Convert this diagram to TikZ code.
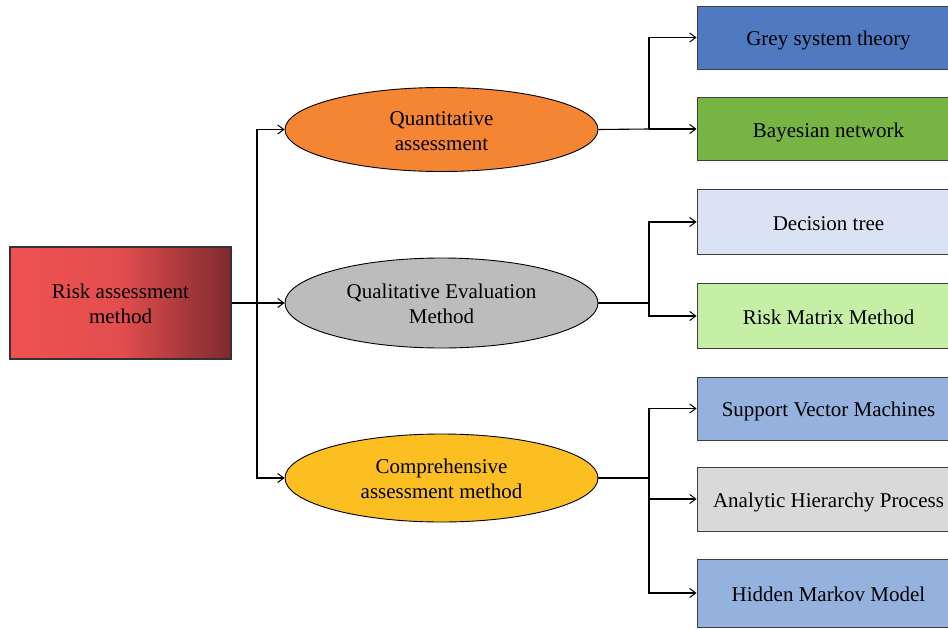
\documentclass[tikz,border=0pt]{standalone}
\usepackage{fontspec}
\setmainfont{Liberation Serif}
\usetikzlibrary{arrows.meta,shapes.geometric}
\definecolor{rootL}{HTML}{F05252}
\definecolor{rootR}{HTML}{7E2A2E}
\definecolor{cOrange}{HTML}{F48533}
\definecolor{cGrey}{HTML}{BCBCBC}
\definecolor{cYellow}{HTML}{FBBF21}
\definecolor{cBlue}{HTML}{4F7AC0}
\definecolor{cGreen}{HTML}{77B444}
\definecolor{cPale}{HTML}{DAE3F4}
\definecolor{cLGreen}{HTML}{C6EFA6}
\definecolor{cMBlue}{HTML}{95B1DE}
\definecolor{cLGrey}{HTML}{D8D9D8}
\newcommand{\twoline}[2]{\raisebox{-3pt}[\height][\depth]{\begin{tabular}{@{}c@{}}#1\\#2\end{tabular}}}
\begin{document}
\begin{tikzpicture}[x=1pt,y=-1pt,
  font=\fontsize{21}{25}\selectfont,
  oval/.style={ellipse,draw=black,line width=0.9pt,minimum width=313pt,minimum height=84pt,inner sep=0pt,align=center},
  leaf/.style={rectangle,draw=black!75,line width=1pt,minimum width=263pt,minimum height=63pt,inner sep=0pt,align=center,text height=16pt,text depth=0pt},
  conn/.style={draw=black,line width=1.1pt},
  arr/.style={conn,-{Straight Barb[length=6pt,width=9pt,line width=1pt]}}]
\useasboundingbox (0,0) rectangle (948,629);
\node[rectangle,draw=black!80,line width=1.2pt,minimum width=221pt,minimum height=112pt,inner sep=0pt,align=center,
  left color=rootL,right color=rootR,middle color=rootL!88!rootR] (root) at (120.5,303) {\twoline{Risk assessment}{method}};
\node[oval,fill=cOrange] (quant) at (441.5,129.5) {\twoline{Quantitative}{assessment}};
\node[oval,fill=cGrey,minimum height=90pt] (qual) at (441.5,303) {\twoline{Qualitative Evaluation}{Method}};
\node[oval,fill=cYellow,minimum height=88pt] (comp) at (441.5,478) {\twoline{Comprehensive}{assessment method}};
\node[leaf,fill=cBlue] (grey) at (828.5,37.5) {Grey system theory};
\node[leaf,fill=cGreen] (bayes) at (828.5,129) {Bayesian network};
\node[leaf,fill=cPale,minimum height=65pt] (dtree) at (828.5,222) {Decision tree};
\node[leaf,fill=cLGreen,minimum height=65pt] (rmm) at (828.5,316) {Risk Matrix Method};
\node[leaf,fill=cMBlue] (svm) at (828.5,408.5) {Support Vector Machines};
\node[leaf,fill=cLGrey,minimum height=64pt] (ahp) at (828.5,499) {Analytic Hierarchy Process};
\node[leaf,fill=cMBlue,minimum height=68pt] (hmm) at (828.5,593) {Hidden Markov Model};
\coordinate (j0) at (257,303);
\coordinate (j1) at (649,129);
\coordinate (j2) at (649,303);
\coordinate (j3) at (649,478);
\draw[conn] (root.east) -- (j0);
\draw[arr] (j0) |- (quant.west);
\draw[arr] (j0) -- (qual.west);
\draw[arr] (j0) |- (comp.west);
\draw[conn] (quant.east) -- (j1);
\draw[arr] (j1) |- (grey.west);
\draw[arr] (j1) |- (bayes.west);
\draw[conn] (qual.east) -- (j2);
\draw[arr] (j2) |- (dtree.west);
\draw[arr] (j2) |- (rmm.west);
\draw[conn] (comp.east) -- (j3);
\draw[arr] (j3) |- (svm.west);
\draw[arr] (j3) |- (ahp.west);
\draw[arr] (j3) |- (hmm.west);
\end{tikzpicture}
\end{document}
